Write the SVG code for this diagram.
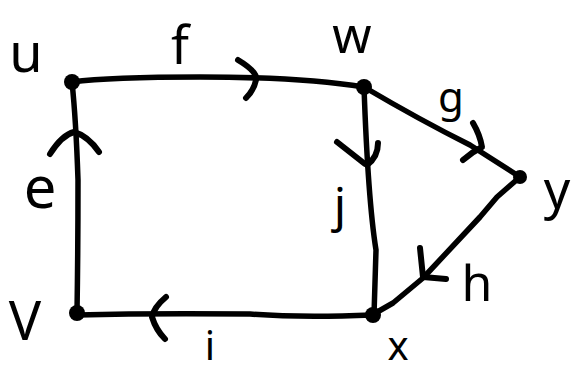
<svg xmlns="http://www.w3.org/2000/svg" width="574" height="373" viewBox="0 0 574 373">
<style>
.e{fill:none;stroke:#000;stroke-width:5.5;stroke-linecap:round;stroke-linejoin:round}
.a{fill:none;stroke:#000;stroke-width:6;stroke-linecap:round;stroke-linejoin:round}
.n{fill:#000}
.t{font-family:"Noto Sans","Liberation Sans",sans-serif;fill:#000;text-anchor:middle}
</style>
<rect width="574" height="373" fill="#fff"/>
<g id="connectors">
<path class="e" d="M72,82 Q110,77 200,77 Q300,77 364,87"/>
<path class="a" d="M238,60 Q258,72 256,80 Q254,90 246,98"/>
<text class="t" x="180" y="64" font-size="52">f</text>
<path class="e" d="M364,87 Q420,120 470,145 L520,177"/>
<path class="a" d="M473,123 Q480,135 482,147 Q472,152 463,160"/>
<text class="t" x="451" y="112" font-size="42">g</text>
<path class="e" d="M364,87 Q368,200 376,250 L374,315"/>
<path class="a" d="M337,142 L365,164 M378,143 Q378,157 367,165"/>
<text class="t" x="340" y="222" font-size="48">j</text>
<path class="e" d="M520,177 L497,197 L480,217 L423,278 L393,303 L372,315"/>
<path class="a" d="M420,248 L423,277 L446,279"/>
<text class="t" x="477" y="301" font-size="50">h</text>
<path class="e" d="M372,315 Q300,318 250,314 Q150,313 77,315"/>
<path class="a" d="M166,297 Q154,307 152,317 Q156,330 165,339"/>
<text class="t" x="210" y="360" font-size="40">i</text>
<path class="e" d="M77,313 Q78,250 78,180 Q76,120 72,82"/>
<path class="a" d="M50,154 Q62,135 74,132 Q88,136 99,152"/>
<text class="t" x="40" y="208" font-size="58">e</text>
</g>
<g id="node-u"><circle class="n" cx="72" cy="82" r="8"/><text class="t" x="26" y="72" font-size="54">u</text></g>
<g id="node-w"><circle class="n" cx="364" cy="87" r="8"/><text class="t" x="352" y="53" font-size="50">w</text></g>
<g id="node-y"><circle class="n" cx="520" cy="177" r="7"/><text class="t" x="557" y="208" font-size="52">y</text></g>
<g id="node-x"><circle class="n" cx="373" cy="315" r="8"/><text class="t" x="398" y="360" font-size="40">x</text></g>
<g id="node-v"><circle class="n" cx="77" cy="313" r="8"/><text class="t" x="25" y="340" font-size="54">V</text></g>
</svg>
